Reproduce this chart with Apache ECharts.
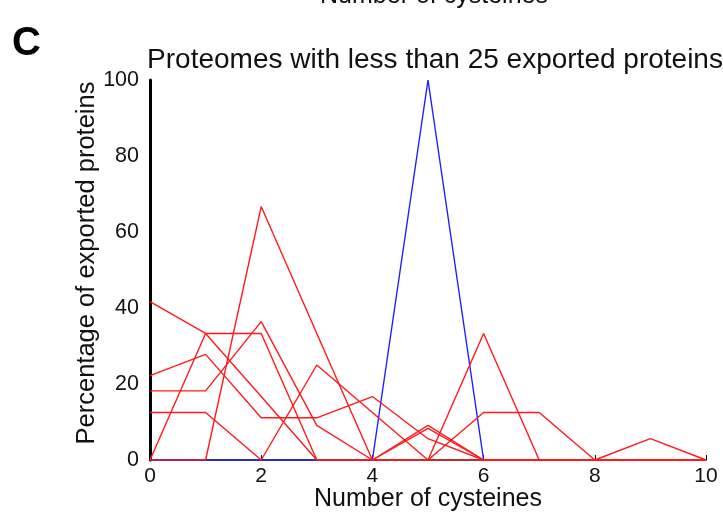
<!DOCTYPE html>
<html>
<head>
<meta charset="utf-8">
<script src="https://cdn.jsdelivr.net/npm/echarts@6/dist/echarts.min.js"></script>
<style>
html,body{margin:0;padding:0;background:#fff;}
#chart{width:723px;height:514px;}
</style>
</head>
<body>
<div id="chart"></div>
<script>
// Data (percentage of exported proteins per number of cysteines)
const cysteines = [0, 1, 2, 3, 4, 5, 6, 7, 8, 9, 10];
const proteomeA = [41.7, 33.3, 16.7, 0, 0, 8.3, 0, 0, 0, 0, 0];
const proteomeB = [22.2, 27.8, 11.1, 11.1, 16.7, 5.6, 0, 0, 0, 5.6, 0];
const proteomeC = [18.2, 18.2, 36.4, 9.1, 0, 9.1, 0, 0, 0, 0, 0];
const proteomeD = [12.5, 12.5, 0, 25, 12.5, 0, 12.5, 12.5, 0, 0, 0];
const proteomeE = [0, 33.3, 33.3, 0, 0, 0, 33.3, 0, 0, 0, 0];
const proteomeF = [0, 0, 66.7, 33.3, 0, 0, 0, 0, 0, 0, 0];
const proteomeBlue = [0, 0, 0, 0, 0, 100, 0, 0, 0, 0, 0];
const redSeries = [proteomeA, proteomeB, proteomeC, proteomeD, proteomeE, proteomeF];
const yTicks = [0, 20, 40, 60, 80, 100];
const xTicks = [0, 2, 4, 6, 8, 10];

const FONT = '"Liberation Sans", Arial, Helvetica, sans-serif';
const pair = arr => cysteines.map((c, i) => [c, arr[i]]);

const series = [{
  type: 'line', data: pair(proteomeBlue), symbol: 'none', silent: true,
  lineStyle: { color: '#1f1fff', width: 1.4 }, z: 2
}].concat(redSeries.map(s => ({
  type: 'line', data: pair(s), symbol: 'none', silent: true,
  lineStyle: { color: '#ff1a1a', width: 1.4 }, z: 3
})));

const chart = echarts.init(document.getElementById('chart'), null, { renderer: 'canvas' });
chart.setOption({
  backgroundColor: '#ffffff',
  animation: false,
  grid: { left: 150, right: 17, top: 80, bottom: 54, containLabel: false, outerBoundsMode: 'none' },
  xAxis: [{
    type: 'value', position: 'bottom', min: xTicks[0], max: xTicks[xTicks.length - 1], interval: 2,
    name: 'Number of cysteines', nameLocation: 'middle', nameGap: 27, nameMoveOverlap: false,
    nameTextStyle: { fontFamily: FONT, fontSize: 25, color: '#111' },
    axisLine: { show: true, lineStyle: { color: '#111', width: 1.5 } },
    axisTick: { show: false },
    axisLabel: { fontFamily: FONT, fontSize: 21, color: '#111', margin: 6 },
    splitLine: { show: false }
  }, {
    type: 'value', position: 'bottom', min: -1.45, max: 8.55, interval: 2,
    axisLine: { show: false },
    axisTick: { show: true, inside: true, length: 5, lineStyle: { color: '#111', width: 1 } },
    axisLabel: { show: false },
    splitLine: { show: false }
  }],
  yAxis: {
    type: 'value', min: yTicks[0], max: yTicks[yTicks.length - 1], interval: 20,
    name: 'Percentage of exported proteins', nameLocation: 'middle', nameGap: 50, nameMoveOverlap: false,
    nameTextStyle: { fontFamily: FONT, fontSize: 25.5, color: '#111', padding: [0, 0, 0, 14] },
    axisLine: { show: true, lineStyle: { color: '#000', width: 3 } },
    axisTick: { show: false },
    axisLabel: { fontFamily: FONT, fontSize: 21.5, color: '#111', margin: 11 },
    splitLine: { show: false }
  },
  graphic: [
    { type: 'text', left: 12, top: 24, style: { text: 'C', fontFamily: FONT, fontSize: 40, fontWeight: 'bold', fill: '#000' } },
    { type: 'text', x: 434, y: 9, style: { text: 'Number of cysteines', fontFamily: FONT, fontSize: 25, fill: '#111', textAlign: 'center', textVerticalAlign: 'bottom' } },
    { type: 'text', x: 435, y: 46, style: { text: 'Proteomes with less than 25 exported proteins', fontFamily: FONT, fontSize: 28, fill: '#111', textAlign: 'center', textVerticalAlign: 'top' } }
  ],
  series: series
});
</script>
</body>
</html>
